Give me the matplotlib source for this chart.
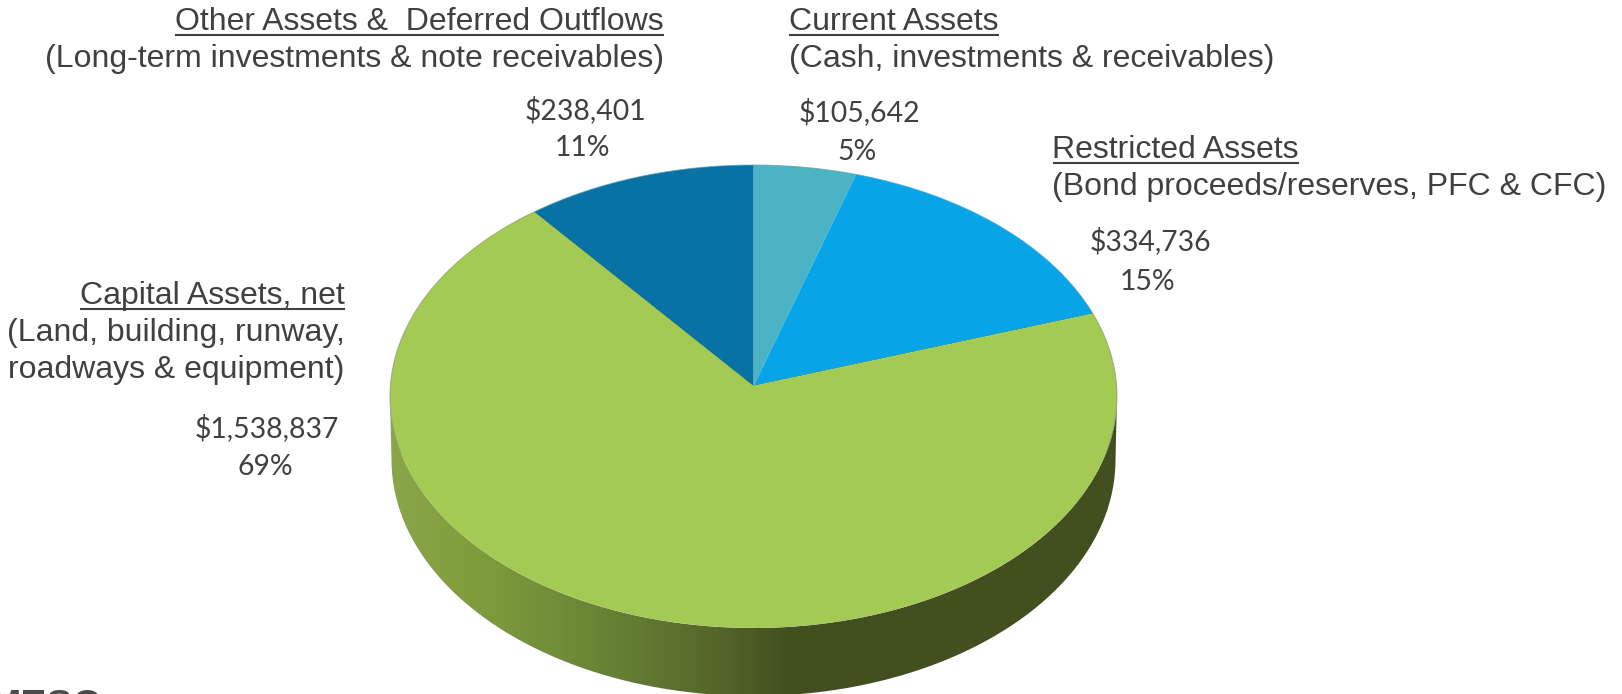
import numpy as np
import matplotlib
matplotlib.use("Agg")
import matplotlib.pyplot as plt
from matplotlib.patches import PathPatch
from matplotlib.path import Path
from matplotlib.transforms import Transform
from matplotlib.colors import LinearSegmentedColormap

W, H = 1622, 694

# clockwise from 12 o'clock
values = [105642, 334736, 1538837, 238401]
percents = ["5%", "15%", "69%", "11%"]
amounts = ["$105,642", "$334,736", "$1,538,837", "$238,401"]
colors = ["#4BB3C4", "#07A5E8", "#A3CA52", "#0872A5"]
titles = ["Current Assets", "Restricted Assets", "Capital Assets, net",
          "Other Assets &  Deferred Outflows"]
notes = [["(Cash, investments & receivables)"],
         ["(Bond proceeds/reserves, PFC & CFC)"],
         ["(Land, building, runway,", "roadways & equipment)"],
         ["(Long-term investments & note receivables)"]]

# top face of the pie in pixels
cx, cy, rx, ry = 753.5, 396.5, 363.5, 231.5
# tilt of the pie: pulls the apex above the ellipse centre
c = -0.045


class Tilt(Transform):
    # maps the unit circle onto itself, as seen in perspective
    input_dims = 2
    output_dims = 2

    def transform_non_affine(self, values):
        x, y = values[:, 0], values[:, 1]
        w = 1 - c * y
        return np.c_[np.sqrt(1 - c ** 2) * x / w, (y - c) / w]


plt.rcParams['font.family'] = ['Liberation Sans', 'DejaVu Sans']
fig = plt.figure(figsize=(W / 100, H / 100), dpi=100)

# pixel axes for the side wall and the text
bg = fig.add_axes([0, 0, 1, 1])
bg.axis("off")

# side wall, the lower rim is a bit narrower
t = np.linspace(0, np.pi, 200)
xs = np.r_[cx + rx * np.cos(t), cx - 362 * np.cos(t)]
ys = np.r_[cy + ry * np.sin(t), 460 + 236 * np.sin(t)]
wall = PathPatch(Path(np.c_[xs, ys]), fc="none", ec="none")
bg.add_patch(wall)
cmap = LinearSegmentedColormap.from_list("wall", [
    (0.00, "#8AA648"), (0.12, "#7F9C3C"), (0.25, "#6E8A36"),
    (0.37, "#5E7530"), (0.45, "#546629"), (0.55, "#41501E"), (1.00, "#41501E")])
grad = bg.imshow(np.linspace(0, 1, 400)[None, :], cmap=cmap, vmin=0, vmax=1,
                 extent=(390, 1117, H, 380), aspect="auto", zorder=1)
grad.set_clip_path(wall)
bg.set_xlim(0, W)
bg.set_ylim(H, 0)

ax = fig.add_axes([0, 0, 1, 1])
ax.patch.set_alpha(0)
wedges, _ = ax.pie(values, colors=colors, startangle=90, counterclock=False, radius=1,
                   wedgeprops={"linewidth": 0})
tilt = Tilt()
for w in wedges:
    w.set_transform(tilt + ax.transData)
# thin grey edge along the back of the pie
a = np.linspace(-np.pi / 2 - 0.25, np.pi / 2 + 0.25, 300)
ax.plot(np.sin(a), np.cos(a), color="#8C9088", lw=0.7, alpha=0.7)
ax.set_aspect("auto")
ax.set_xlim((0 - cx) / rx, (W - cx) / rx)
ax.set_ylim((cy - H) / ry, cy / ry)
ax.axis("off")

FS = 23
VS = 20.4
TXT = "#404040"


def block(x, ys_, title, lines, ha):
    r = fig.canvas.get_renderer()
    txt = fig.text(x / W, 1 - ys_[0] / H, title, fontsize=FS, color=TXT, ha=ha, va="baseline")
    b = txt.get_window_extent(r)
    bg.plot([b.x0, b.x1], [ys_[0] + 4.5, ys_[0] + 4.5], color=TXT, lw=1.5, solid_capstyle="butt")
    for y, s in zip(ys_[1:], lines):
        fig.text(x / W, 1 - y / H, s, fontsize=FS, color=TXT, ha=ha, va="baseline")


block(664, (30.5, 67.5), titles[3], notes[3], "right")
block(789, (30.5, 67.5), titles[0], notes[0], "left")
block(1052.5, (158, 195), titles[1], notes[1], "left")
block(344.5, (304, 341, 378), titles[2], notes[2], "right")
bg.set_xlim(0, W)
bg.set_ylim(H, 0)

# value labels in a Calibri-like face
amount_pos = [(859.5, 121), (1150, 250.5), (267, 437), (585.5, 119)]
percent_pos = [(857, 159.5), (1148, 290), (265, 475), (582.5, 156.5)]
for (x, y), (x2, y2), a_, p in zip(amount_pos, percent_pos, amounts, percents):
    fig.text(x / W, 1 - y / H, a_, fontsize=VS, color=TXT, ha="center", va="baseline", family="Lato")
    fig.text(x2 / W, 1 - y2 / H, p, fontsize=VS, color=TXT, ha="center", va="baseline", family="Lato")

# logo cut off by the bottom edge
fig.text(103 / W, 1 - 717 / H, "MESO", fontsize=28, fontweight="bold", color="#4A4A4A",
         ha="right", va="baseline")

fig.savefig("out.png", dpi=100)
